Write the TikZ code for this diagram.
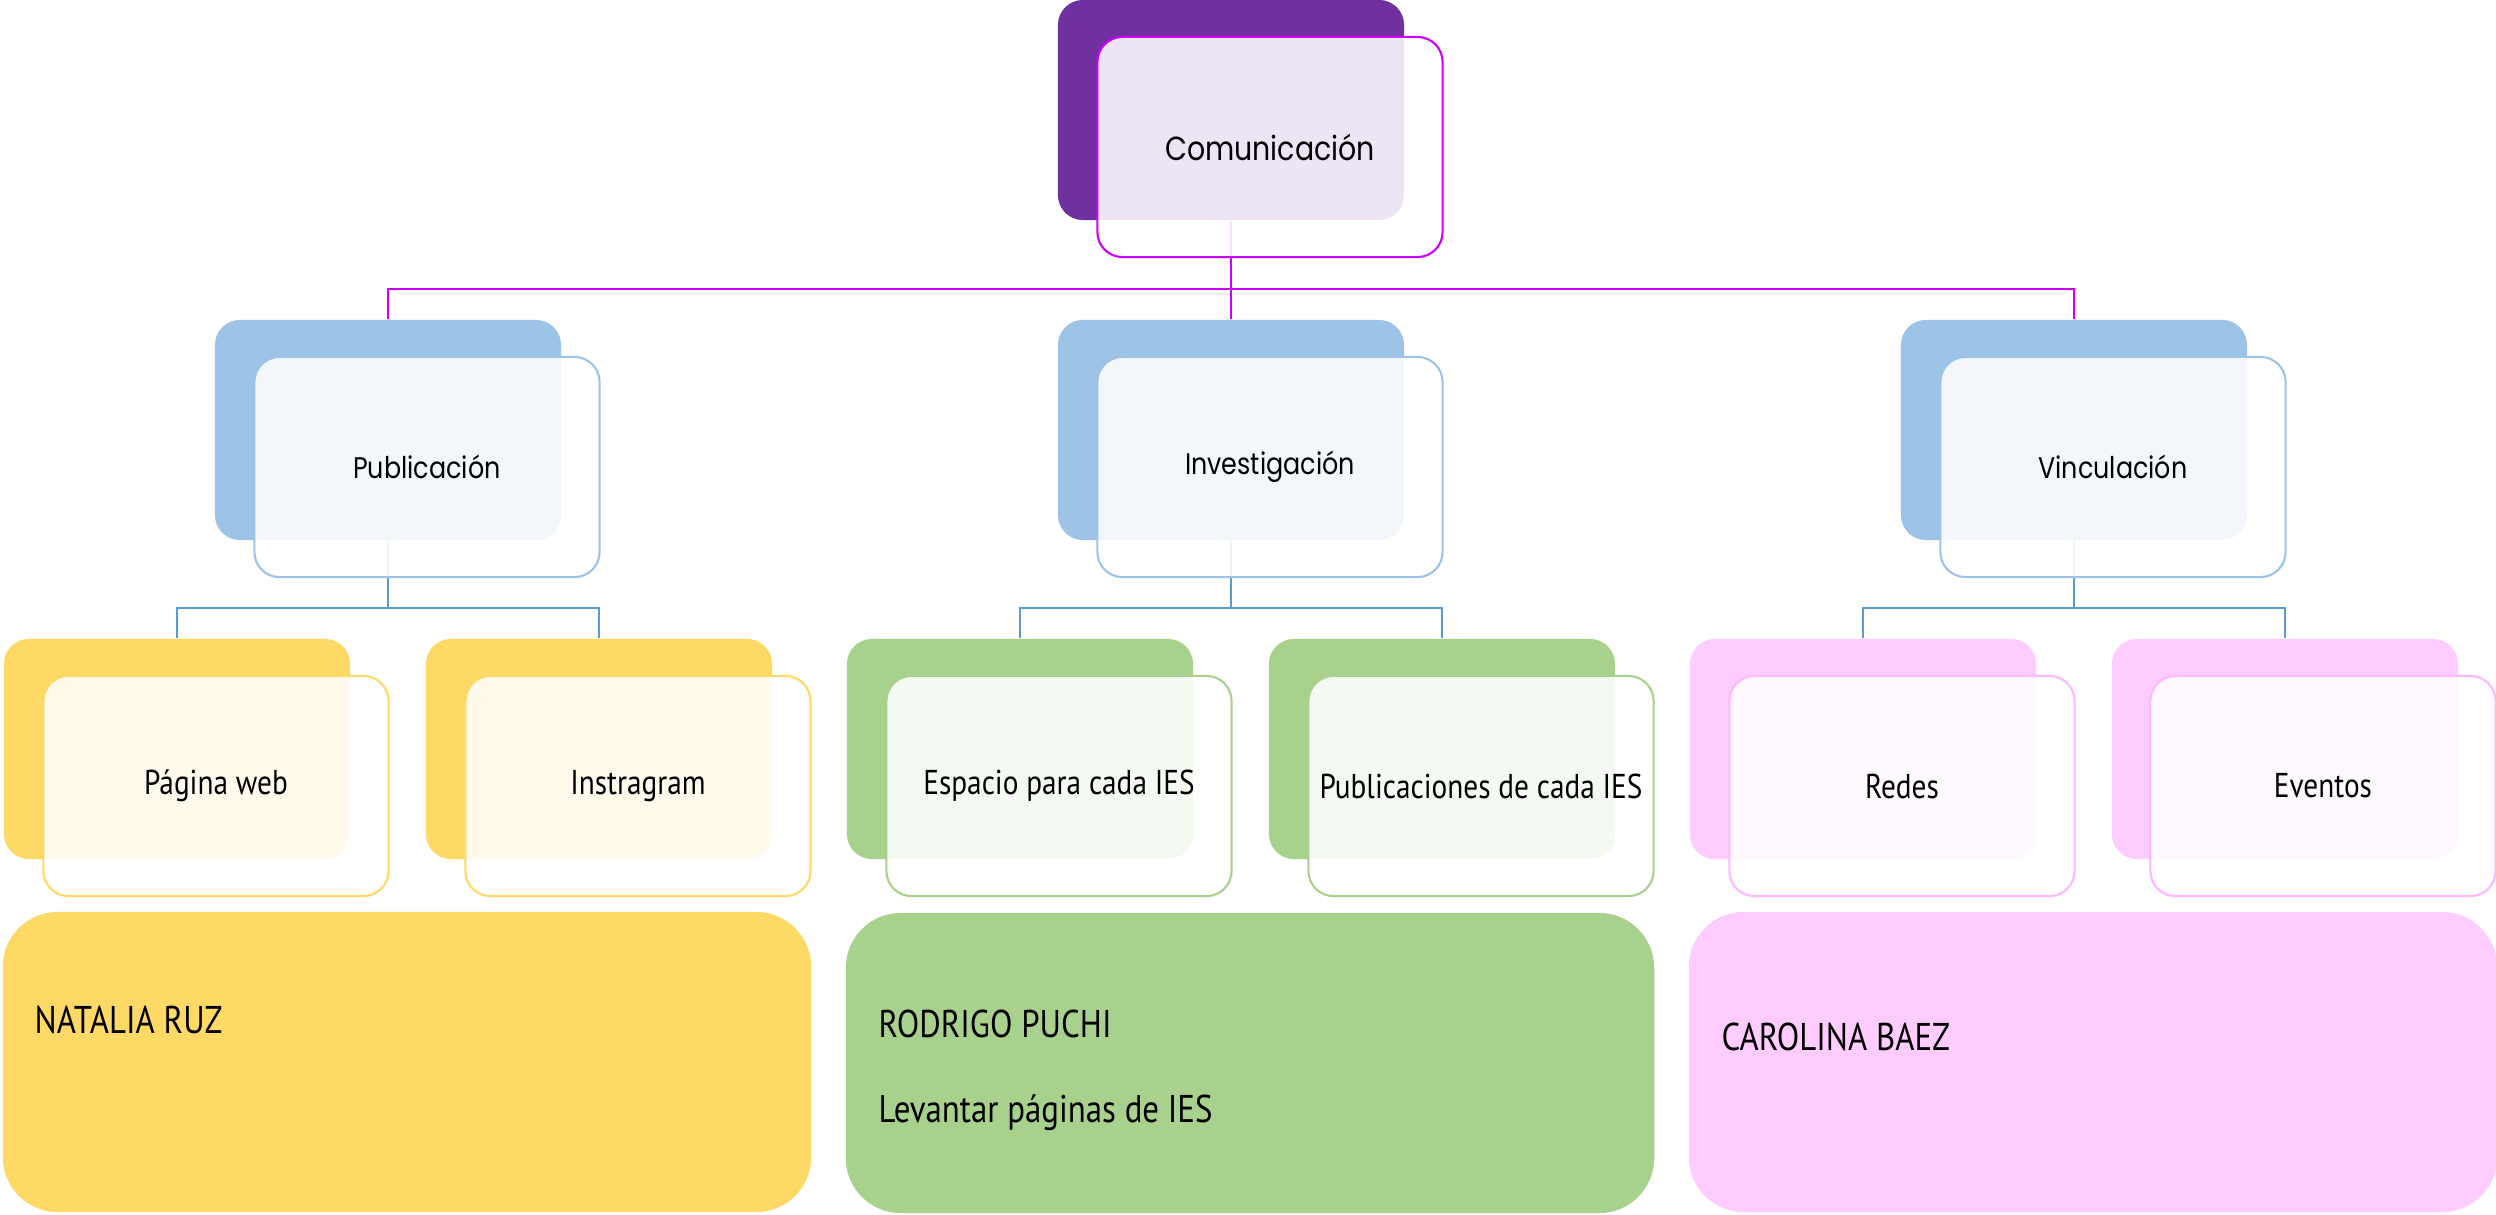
\documentclass[tikz,border=0pt]{standalone}
\usepackage{fontspec}
\newfontfamily\headf[FakeStretch=0.85]{Poppins}
\newfontfamily\bodyf[FakeStretch=0.85]{PT Sans}
\definecolor{purp}{HTML}{7030A0}
\definecolor{magl}{HTML}{CC00FF}
\definecolor{blueb}{HTML}{9DC3E6}
\definecolor{bluel}{HTML}{5B9BD5}
\definecolor{yel}{HTML}{FFD966}
\definecolor{grn}{HTML}{A9D18E}
\definecolor{pnk}{HTML}{FFCCFF}
\definecolor{pnkb}{HTML}{FFB8FF}
\tikzset{
  backbox/.style={rectangle, rounded corners=0.25cm, minimum width=3.46cm, minimum height=2.2cm, inner sep=0pt, draw=none},
  frontbox/.style={rectangle, rounded corners=0.25cm, minimum width=3.45cm, minimum height=2.2cm, inner sep=0pt, fill=white, fill opacity=0.88, text opacity=1, line width=0.6pt, text=black},
  toptxt/.style={font=\headf\fontsize{9.5}{11}\selectfont},
  headtxt/.style={font=\headf\fontsize{8.5}{10}\selectfont},
  leaftxt/.style={font=\bodyf\fontsize{9.8}{11}\selectfont},
  bigbox/.style={rectangle, rounded corners=0.55cm, minimum width=8.08cm, minimum height=3.0cm, inner sep=0pt, draw=none},
  nametxt/.style={anchor=west, inner sep=0pt, font=\bodyf\fontsize{11}{13}\selectfont, text=black},
  magline/.style={draw=magl, line width=0.65pt},
  blueline/.style={draw=bluel, line width=0.65pt},
}
\begin{document}
\begin{tikzpicture}[x=0.01cm, y=-0.01cm]
\useasboundingbox (0,0) rectangle (2496,1215);
% back boxes
\node[backbox, fill=purp] (comB) at (1231,110) {};
\node[backbox, fill=blueb] (pubB) at (388,430) {};
\node[backbox, fill=blueb] (invB) at (1231,430) {};
\node[backbox, fill=blueb] (vinB) at (2074,430) {};
\node[backbox, fill=yel] (webB) at (177,749) {};
\node[backbox, fill=yel] (insB) at (599,749) {};
\node[backbox, fill=grn] (espB) at (1020,749) {};
\node[backbox, fill=grn] (pubiB) at (1442,749) {};
\node[backbox, fill=pnk] (redB) at (1863,749) {};
\node[backbox, fill=pnk] (eveB) at (2285,749) {};
% connectors
\coordinate (bus1) at (1231,289);
\draw[magline] (comB.south) -- (bus1);
\draw[magline] (pubB.north) |- (bus1) -| (vinB.north);
\draw[magline] (bus1) -- (invB.north);
\coordinate (busP) at (388,608);
\coordinate (busI) at (1231,608);
\coordinate (busV) at (2074,608);
\draw[blueline] (pubB.south) -- (busP);
\draw[blueline] (webB.north) |- (busP) -| (insB.north);
\draw[blueline] (invB.south) -- (busI);
\draw[blueline] (espB.north) |- (busI) -| (pubiB.north);
\draw[blueline] (vinB.south) -- (busV);
\draw[blueline] (redB.north) |- (busV) -| (eveB.north);
% front boxes
\node[frontbox, draw=magl, toptxt] (com) at (1270,147) {Comunicación};
\node[frontbox, draw=blueb, headtxt] (pub) at (427,467) {Publicación};
\node[frontbox, draw=blueb, headtxt] (inv) at (1270,467) {Investigación};
\node[frontbox, draw=blueb, headtxt] (vin) at (2113,467) {Vinculación};
\node[frontbox, draw=yel, leaftxt] (web) at (216,786) {Página web};
\node[frontbox, draw=yel, leaftxt] (ins) at (638,786) {Instragram};
\node[frontbox, draw=grn, leaftxt] (esp) at (1059,786) {Espacio para cada IES};
\node[frontbox, draw=grn, leaftxt] (pubi) at (1481,786) {Publicaciones de cada IES};
\node[frontbox, draw=pnkb, leaftxt] (red) at (1902,786) {Redes};
\node[frontbox, draw=pnkb, leaftxt] (eve) at (2323,786) {Eventos};
% bottom boxes
\node[bigbox, fill=yel] (nat) at (407,1062) {};
\node[bigbox, fill=grn] (rod) at (1250,1063) {};
\node[bigbox, fill=pnk] (car) at (2093,1062) {};
\node[nametxt] (natT) at (34,1020) {NATALIA RUZ};
\node[nametxt] (rodT) at (878,1024) {RODRIGO PUCHI};
\node[nametxt] (rodL) at (878,1113) {Levantar páginas de IES};
\node[nametxt] (carT) at (1721,1037) {CAROLINA BAEZ};
\end{tikzpicture}
\end{document}
